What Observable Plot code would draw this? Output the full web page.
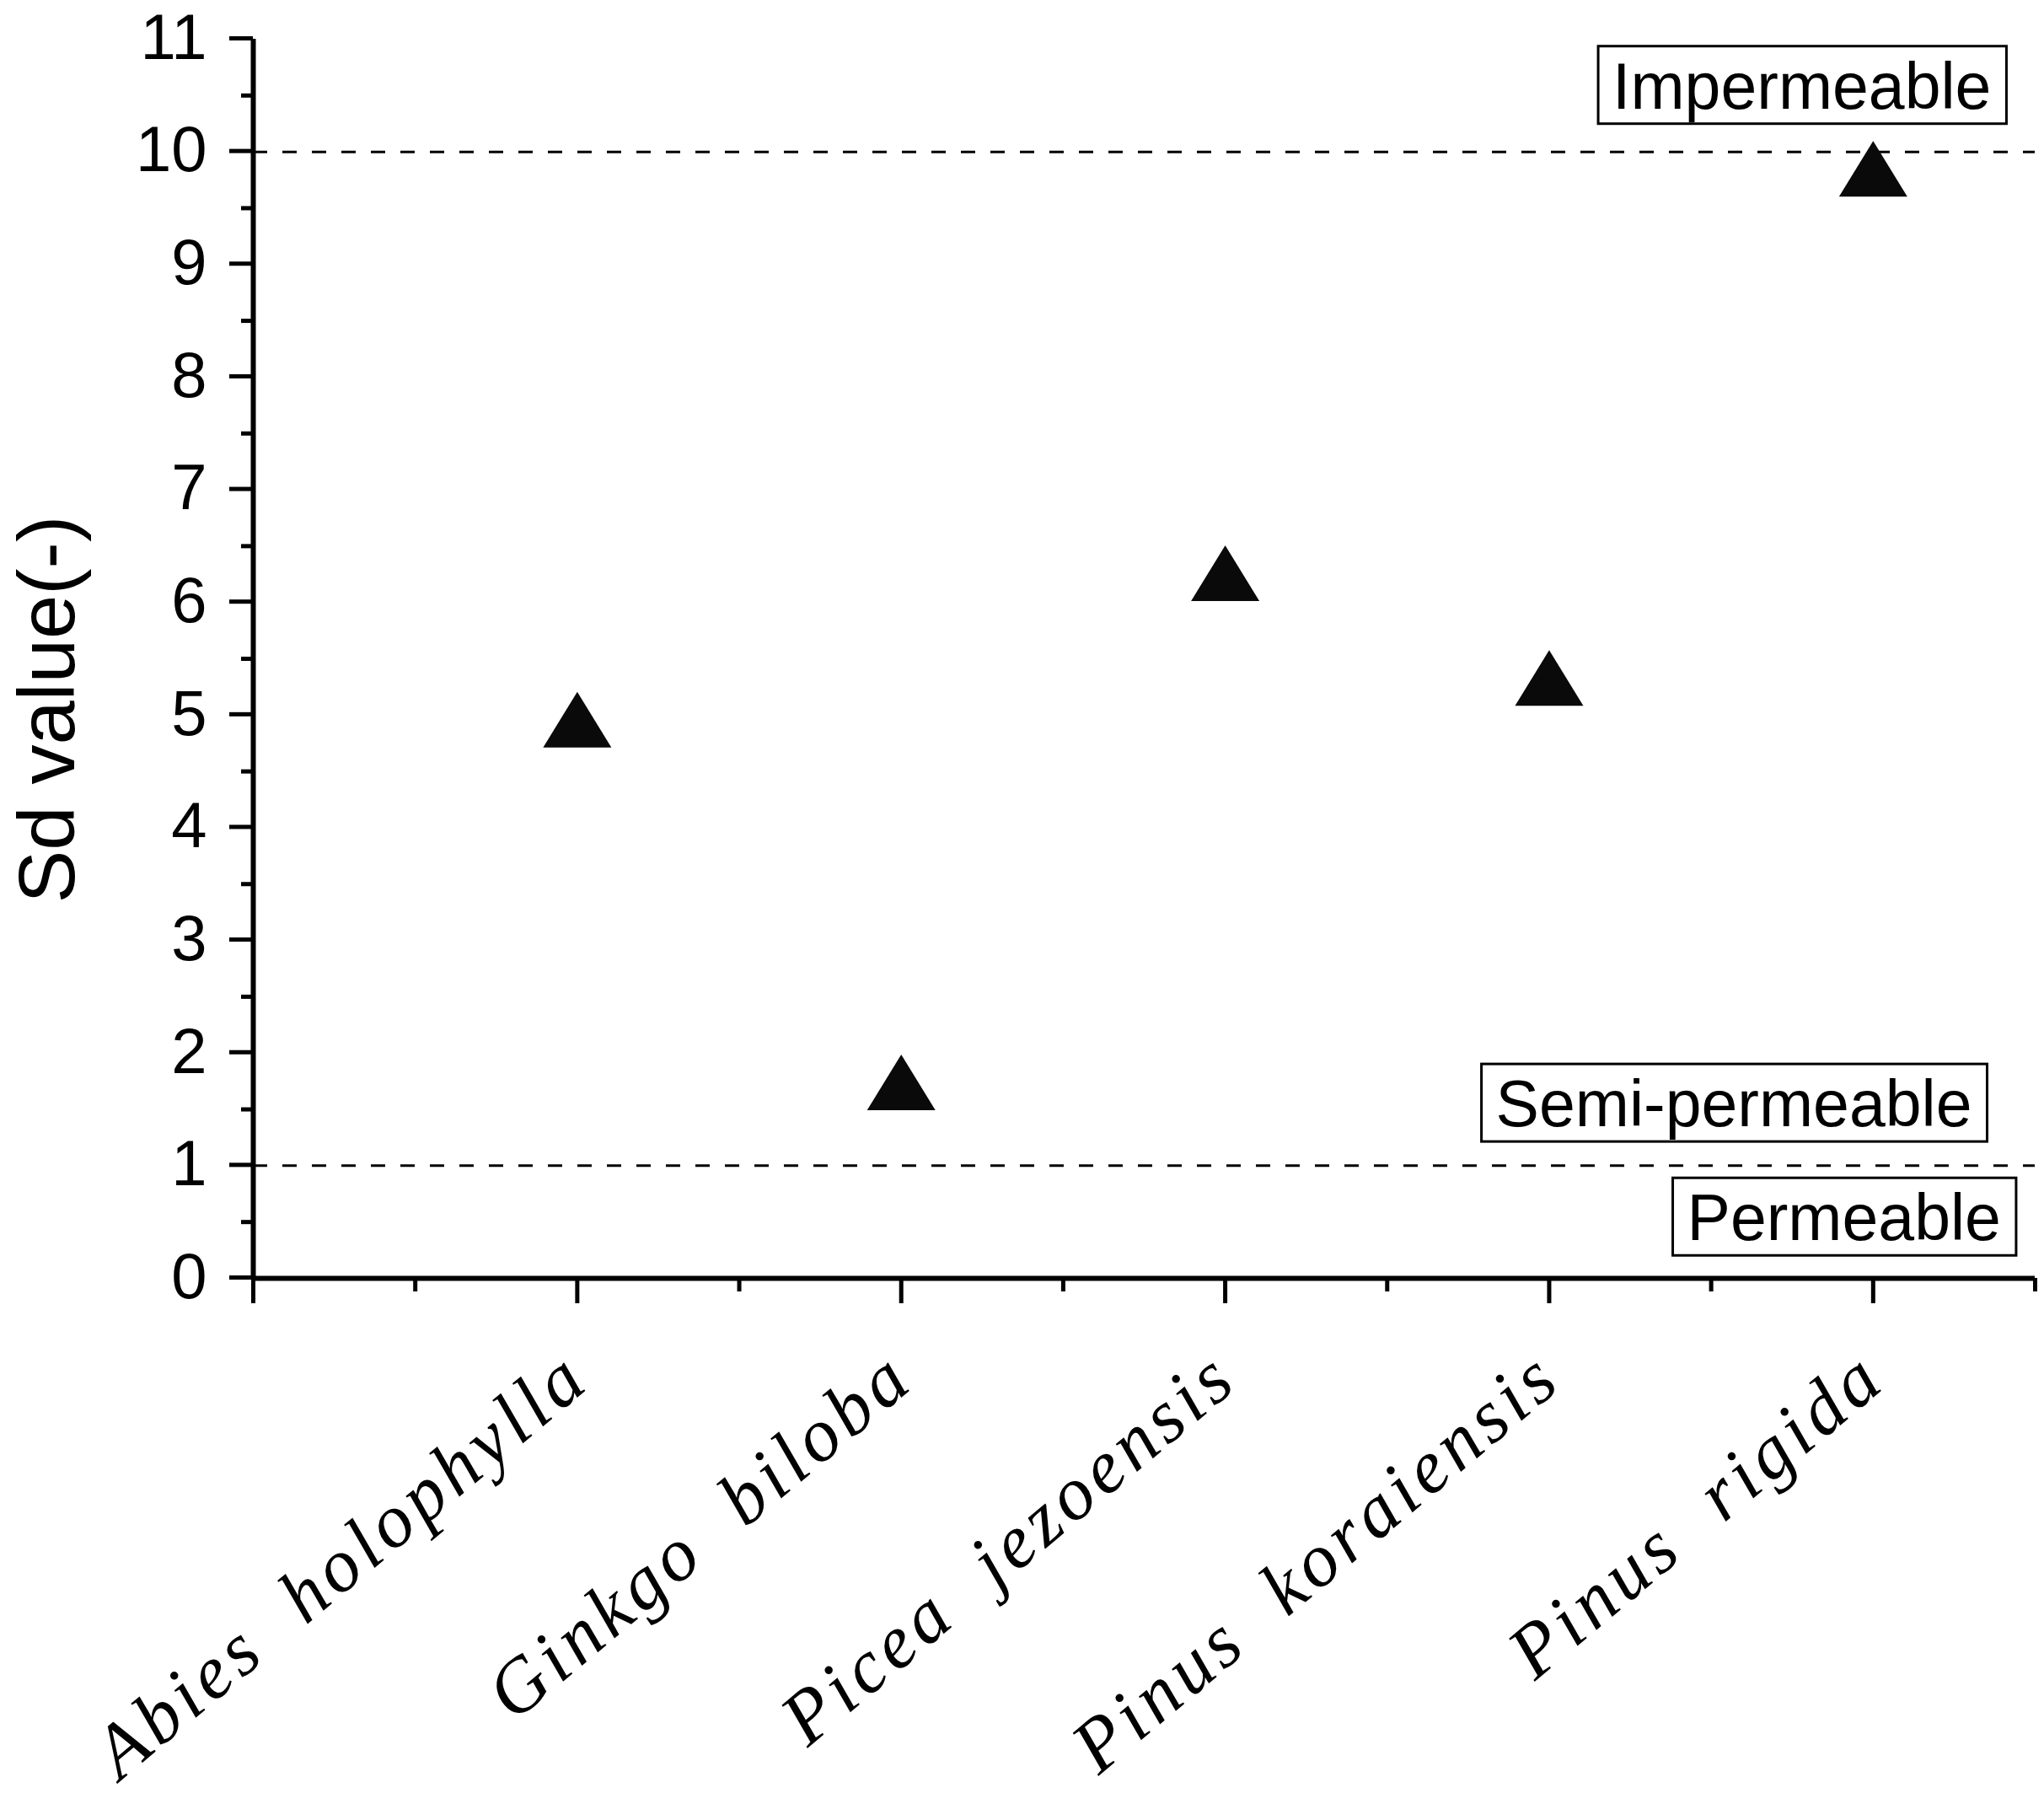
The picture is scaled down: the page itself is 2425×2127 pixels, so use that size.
<!DOCTYPE html>
<html>
<head>
<meta charset="utf-8">
<script src="https://cdn.jsdelivr.net/npm/d3@7"></script>
<script src="https://cdn.jsdelivr.net/npm/@observablehq/plot@0.6"></script>
<style>
  html, body { margin: 0; padding: 0; background: #fff; }
</style>
</head>
<body>
<div id="chart"></div>
<script>
// ---- data ----
const species = ["Abies holophylla", "Ginkgo biloba", "Picea jezoensis", "Pinus koraiensis", "Pinus rigida"];
const speciesPos = [1, 2, 3, 4, 5];
const sdValues = [4.96, 1.74, 6.26, 5.33, 9.85];

const yTicks = [0, 1, 2, 3, 4, 5, 6, 7, 8, 9, 10, 11];
const yMinorTicks = [0.5, 1.5, 2.5, 3.5, 4.5, 5.5, 6.5, 7.5, 8.5, 9.5, 10.5];
const xMajorTicks = [0, 1, 2, 3, 4, 5];
const xMinorTicks = [0.5, 1.5, 2.5, 3.5, 4.5, 5.5];

const thresholds = [1, 10];
const zoneLabels = ["Impermeable", "Semi-permeable", "Permeable"];
const zoneLabelX = [4.78, 4.57, 4.91];
const zoneLabelY = [10.57, 1.535, 0.524];

const yLabel = "Sd value(-)";
const yLabelPos = 5.05;

// ---- chart ----
const sans = "'Liberation Sans', Arial, Helvetica, sans-serif";
const serif = "'Liberation Serif', 'Times New Roman', serif";
const speciesText = (v) => species[v - 1].replace(" ", "\u00a0\u00a0");

const triangle = {
  draw(ctx, size) {
    const r = Math.sqrt(size / Math.PI);
    const h = r * 66 / 81;
    ctx.moveTo(0, -h);
    ctx.lineTo(r, h);
    ctx.lineTo(-r, h);
    ctx.closePath();
  }
};

const points = species.map((s, i) => ({species: s, pos: speciesPos[i], sd: sdValues[i]}));
const zones = zoneLabels.map((t, i) => ({label: t, x: zoneLabelX[i], y: zoneLabelY[i]}));

const chart = Plot.plot({
  width: 2425,
  height: 2127,
  marginLeft: 300,
  marginRight: 11,
  marginTop: 46,
  marginBottom: 611,
  style: {background: "#fff", color: "#000", fontFamily: sans},
  x: {domain: [0, 5.5], axis: null},
  y: {domain: [0, 11], axis: null},
  marks: [
    Plot.ruleY(thresholds, {stroke: "#000", strokeWidth: 3, strokeDasharray: "17,18"}),
    Plot.axisY({ticks: yTicks, tickSize: 28, tickPadding: 27, strokeWidth: 5, fontSize: 76, fontFamily: sans, fill: "#000", dy: -1}),
    Plot.axisY({ticks: yMinorTicks, tickSize: 14, strokeWidth: 5, tickFormat: () => ""}),
    Plot.axisX({ticks: xMajorTicks, tickSize: 30, strokeWidth: 5, tickFormat: () => ""}),
    Plot.axisX({ticks: xMinorTicks, tickSize: 16, strokeWidth: 5, tickFormat: () => ""}),
    Plot.axisX({
      ticks: speciesPos, tickSize: 0, tickPadding: 104, tickRotate: -40,
      tickFormat: speciesText,
      fontSize: 90, fontFamily: serif, fontStyle: "italic", fill: "#000"
    }),
    Plot.ruleX([0], {stroke: "#000", strokeWidth: 6}),
    Plot.ruleY([0], {stroke: "#000", strokeWidth: 6}),
    Plot.dot(points, {x: "pos", y: "sd", symbol: triangle, r: 40.5, fill: "#0a0a0a", stroke: "none"}),
    Plot.text([yLabel], {x: 0, y: yLabelPos, rotate: -90, dx: -243, fontSize: 94, fontFamily: sans, fill: "#000"}),
    Plot.text(zones, {x: "x", y: "y", text: "label", fontSize: 77, fontFamily: sans, fill: "#000"})
  ]
});

document.getElementById("chart").appendChild(chart);

// letter spacing for the italic species labels
const speciesStrings = speciesPos.map(speciesText);
d3.select(chart).selectAll("text")
  .filter(function () { return speciesStrings.includes(this.textContent); })
  .style("letter-spacing", "6px");

// frame boxes around zone labels
const svgNS = "http://www.w3.org/2000/svg";
d3.select(chart).selectAll("text")
  .filter(function () { return zoneLabels.includes(this.textContent); })
  .each(function () {
    const bb = this.getBBox();
    const fs = 77;
    const capCenter = bb.y + 0.905 * fs - 0.358 * fs;
    const rect = document.createElementNS(svgNS, "rect");
    rect.setAttribute("x", bb.x - 17);
    rect.setAttribute("width", bb.width + 35);
    rect.setAttribute("y", capCenter - 46);
    rect.setAttribute("height", 92);
    rect.setAttribute("fill", "#fff");
    rect.setAttribute("stroke", "#000");
    rect.setAttribute("stroke-width", 3);
    const t = this.getAttribute("transform");
    if (t) rect.setAttribute("transform", t);
    this.parentNode.insertBefore(rect, this);
  });
</script>
</body>
</html>
